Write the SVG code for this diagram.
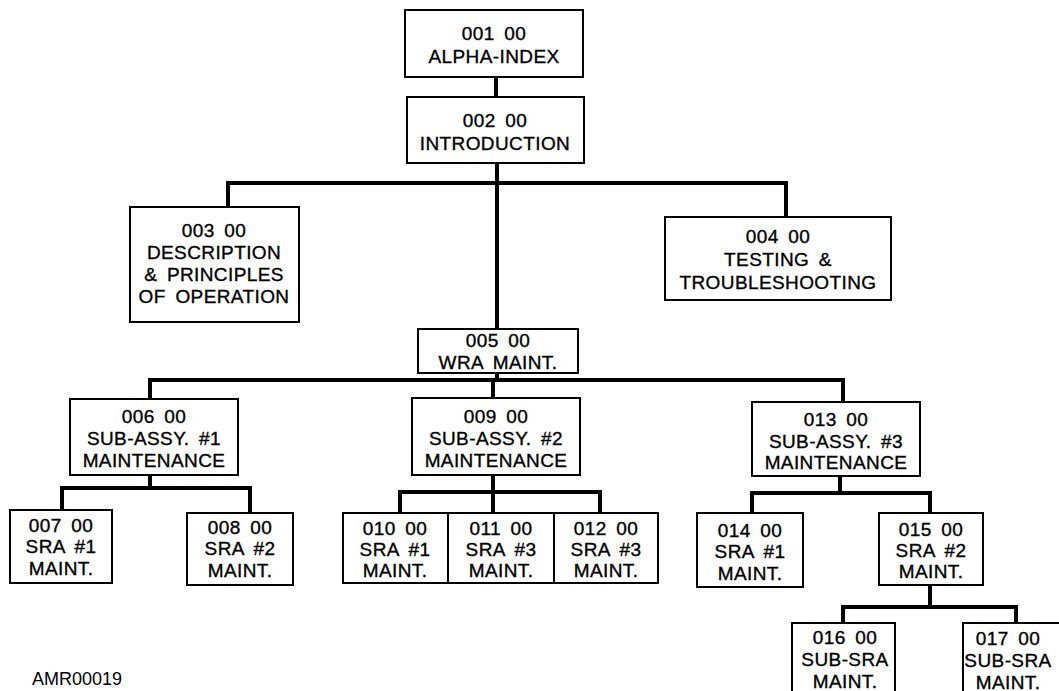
<svg xmlns="http://www.w3.org/2000/svg" width="1059" height="691" viewBox="0 0 1059 691">
<style>
.box{fill:#fff;stroke:#000;stroke-width:2}
.t{font-family:"Liberation Sans",Arial,sans-serif;font-size:19px;fill:#000;stroke:#000;stroke-width:0.35;text-anchor:middle;letter-spacing:0.4px;word-spacing:4px}
.c{fill:none;stroke:#000;stroke-width:4;stroke-linecap:square}
.lbl{font-family:"Liberation Sans",Arial,sans-serif;font-size:18px;fill:#000}
</style>
<rect width="1059" height="691" fill="#fff"/>
<g id="connectors">
<path class="c" d="M496,77V97"/>
<path class="c" d="M497,163V329"/>
<path class="c" d="M228,183H786M228,183V207M786,183V217"/>
<path class="c" d="M497,373V380M150,380H843M150,380V399M493,380V398M843,380V402"/>
<path class="c" d="M150,475V488M62,488H250M62,488V510M250,488V513"/>
<path class="c" d="M493,475V492M400,492H600M400,492V513M493,492V513M600,492V513"/>
<path class="c" d="M840,476V493M752,493H930M752,493V513M930,493V513"/>
<path class="c" d="M930,585V607M843,607H1016M843,607V623M1016,607V623"/>
</g>
<g id="n001"><rect class="box" x="405" y="10" width="178" height="67"/><text class="t" x="494" y="40">001 00</text><text class="t" x="494" y="63">ALPHA-INDEX</text></g>
<g id="n002"><rect class="box" x="407" y="97" width="177" height="66"/><text class="t" x="495" y="127">002 00</text><text class="t" x="495" y="150">INTRODUCTION</text></g>
<g id="n003"><rect class="box" x="130" y="207" width="169" height="115"/><text class="t" x="214" y="237">003 00</text><text class="t" x="214" y="259">DESCRIPTION</text><text class="t" x="214" y="281">&amp; PRINCIPLES</text><text class="t" x="214" y="303">OF OPERATION</text></g>
<g id="n004"><rect class="box" x="665" y="217" width="226" height="83"/><text class="t" x="778" y="243">004 00</text><text class="t" x="778" y="266">TESTING &amp;</text><text class="t" x="778" y="289">TROUBLESHOOTING</text></g>
<g id="n005"><rect class="box" x="418" y="329" width="160" height="44"/><text class="t" x="498" y="347">005 00</text><text class="t" x="498" y="369">WRA MAINT.</text></g>
<g id="n006"><rect class="box" x="70" y="399" width="168" height="76"/><text class="t" x="154" y="423">006 00</text><text class="t" x="154" y="445">SUB-ASSY. #1</text><text class="t" x="154" y="467">MAINTENANCE</text></g>
<g id="n009"><rect class="box" x="412" y="398" width="168" height="77"/><text class="t" x="496" y="423">009 00</text><text class="t" x="496" y="445">SUB-ASSY. #2</text><text class="t" x="496" y="467">MAINTENANCE</text></g>
<g id="n013"><rect class="box" x="752" y="402" width="168" height="74"/><text class="t" x="836" y="426">013 00</text><text class="t" x="836" y="448">SUB-ASSY. #3</text><text class="t" x="836" y="469">MAINTENANCE</text></g>
<g id="n007"><rect class="box" x="10" y="510" width="102" height="73"/><text class="t" x="61" y="532">007 00</text><text class="t" x="61" y="553">SRA #1</text><text class="t" x="61" y="575">MAINT.</text></g>
<g id="n008"><rect class="box" x="187" y="513" width="106" height="72"/><text class="t" x="240" y="534">008 00</text><text class="t" x="240" y="555">SRA #2</text><text class="t" x="240" y="577">MAINT.</text></g>
<g id="n010"><rect class="box" x="343" y="513" width="105" height="70"/><text class="t" x="395" y="535">010 00</text><text class="t" x="395" y="556">SRA #1</text><text class="t" x="395" y="577">MAINT.</text></g>
<g id="n011"><rect class="box" x="448" y="513" width="106" height="70"/><text class="t" x="501" y="535">011 00</text><text class="t" x="501" y="556">SRA #3</text><text class="t" x="501" y="577">MAINT.</text></g>
<g id="n012"><rect class="box" x="554" y="513" width="104" height="70"/><text class="t" x="606" y="535">012 00</text><text class="t" x="606" y="556">SRA #3</text><text class="t" x="606" y="577">MAINT.</text></g>
<g id="n014"><rect class="box" x="697" y="513" width="106" height="74"/><text class="t" x="750" y="537">014 00</text><text class="t" x="750" y="558">SRA #1</text><text class="t" x="750" y="580">MAINT.</text></g>
<g id="n015"><rect class="box" x="879" y="513" width="104" height="72"/><text class="t" x="931" y="536">015 00</text><text class="t" x="931" y="557">SRA #2</text><text class="t" x="931" y="578">MAINT.</text></g>
<g id="n016"><rect class="box" x="792" y="623" width="103" height="80"/><text class="t" x="845" y="644">016 00</text><text class="t" x="845" y="666">SUB-SRA</text><text class="t" x="845" y="688">MAINT.</text></g>
<g id="n017"><rect class="box" x="963" y="623" width="110" height="80"/><text class="t" x="1008" y="645">017 00</text><text class="t" x="1008" y="667">SUB-SRA</text><text class="t" x="1008" y="689">MAINT.</text></g>
<text class="lbl" x="32" y="685">AMR00019</text>
</svg>
